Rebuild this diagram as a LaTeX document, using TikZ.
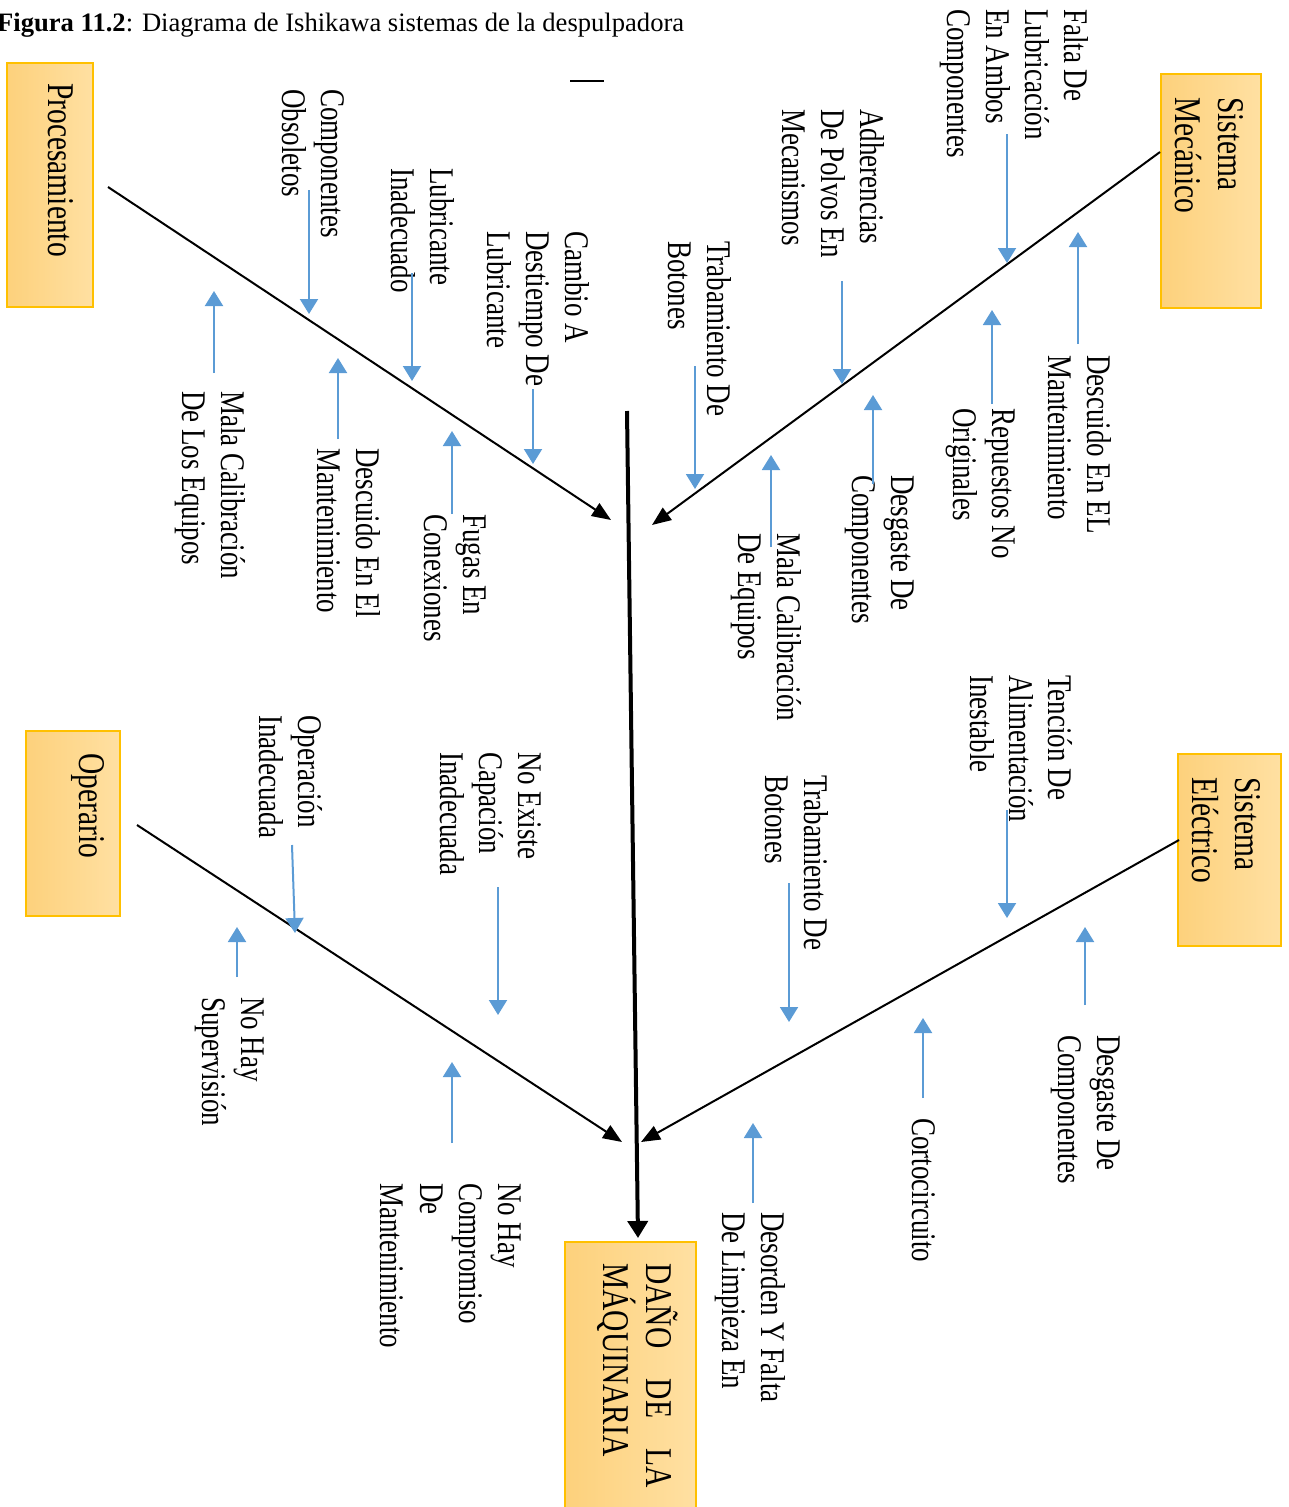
\documentclass[tikz,border=0pt]{standalone}
\usepackage{fontspec}
\setmainfont{Liberation Serif}
\usepackage{xcolor}
\usetikzlibrary{arrows.meta}
\definecolor{boxdark}{RGB}{253,209,124}
\definecolor{boxlight}{RGB}{255,224,162}
\definecolor{boxgold}{RGB}{255,192,0}
\definecolor{causeblue}{RGB}{91,155,213}

\begin{document}
\begin{tikzpicture}[
    x=1pt, y=-1pt,
    catbox/.style={rectangle, draw=boxgold, line width=2pt, left color=boxdark, right color=boxlight},
    cattext/.style={rotate=-90, yscale=1.28, anchor=north west, inner sep=0pt, align=left, font=\fontsize{29.5}{33.6}\selectfont},
    cause/.style={rotate=-90, yscale=1.28, anchor=north west, inner sep=0pt, align=left, font=\fontsize{27}{30.5}\selectfont},
    spine/.style={line width=4pt, -{Triangle[length=17pt,width=20pt]}},
    bone/.style={line width=2pt, -{Triangle[length=19pt,width=15pt]}},
    subarrow/.style={draw=causeblue, line width=2pt, -{Triangle[length=15pt,width=18pt]}},
]
\useasboundingbox (0,0) rectangle (1288,1507);

% Title
\node[anchor=base west, inner sep=0pt, font=\fontsize{26.6}{30}\selectfont] (title) at (-3,31) {\textbf{Figura 11.2}: Diagrama de Ishikawa sistemas de la despulpadora};
\coordinate (dashL) at (570,81);
\coordinate (dashR) at (604,81);
\draw[line width=1.5pt] (dashL) -- (dashR);

% --- CATEGORY BOXES ---
\node[catbox, minimum width=86pt, minimum height=244pt] (procBox) at (50,185) {};
\node[cattext] (procText) at (74,83) {Procesamiento};
\node[catbox, minimum width=100pt, minimum height=234pt] (mecBox) at (1211,191) {};
\node[cattext] (mecText) at (1244,97) {Sistema\\Mecánico};
\node[catbox, minimum width=94pt, minimum height=185pt] (opBox) at (73,823.5) {};
\node[cattext] (opText) at (105,753) {Operario};
\node[catbox, minimum width=103pt, minimum height=192pt] (elecBox) at (1229.5,849.5) {};
\node[cattext] (elecText) at (1261,777) {Sistema\\Eléctrico};

% Effect
\node[catbox, minimum width=131pt, minimum height=286pt] (effBox) at (630.5,1385) {};
\node[cattext] (effText) at (678,1263) {\makebox[225pt][s]{DAÑO DE LA}\\MÁQUINARIA};

% --- SPINE AND BONES ---
\coordinate (spineTop) at (627,411);
\coordinate (spineEnd) at (638,1238);
\draw[spine] (spineTop) -- (spineEnd);

\coordinate (procTail) at (108,187);
\coordinate (procHead) at (611,520);
\draw[bone] (procTail) -- (procHead);
\coordinate (mecTail) at (1160,152);
\coordinate (mecHead) at (652,525);
\draw[bone] (mecTail) -- (mecHead);
\coordinate (opTail) at (137,825);
\coordinate (opHead) at (622,1142);
\draw[bone] (opTail) -- (opHead);
\coordinate (elecTail) at (1179,840);
\coordinate (elecHead) at (641,1142);
\draw[bone] (elecTail) -- (elecHead);

% --- PROCESAMIENTO ---
\node[cause] (procC1) at (345,89) {Componentes\\Obsoletos};
\node[cause] (procC2) at (455,168) {Lubricante\\Inadecuado};
\node[cause] (procC3) at (590,231) {Cambio A\\Destiempo De\\Lubricante};
\node[cause] (procC4) at (486,514) {Fugas En\\Conexiones};
\node[cause] (procC5) at (381,448) {Descuido En El\\Mantenimiento};
\node[cause] (procC6) at (246,391) {Mala Calibración\\De Los Equipos};
\coordinate (p1a) at (309,190); \coordinate (p1b) at (309,314);
\coordinate (p2a) at (412,273); \coordinate (p2b) at (412,381);
\coordinate (p3a) at (533,389); \coordinate (p3b) at (533,464);
\coordinate (p4a) at (452,514); \coordinate (p4b) at (452,431);
\coordinate (p5a) at (338,439); \coordinate (p5b) at (338,358);
\coordinate (p6a) at (214,373); \coordinate (p6b) at (214,291);
\draw[subarrow] (p1a) -- (p1b);
\draw[subarrow] (p2a) -- (p2b);
\draw[subarrow] (p3a) -- (p3b);
\draw[subarrow] (p4a) -- (p4b);
\draw[subarrow] (p5a) -- (p5b);
\draw[subarrow] (p6a) -- (p6b);

% --- SISTEMA MECANICO ---
\node[cause] (mecC1) at (1089,9) {Falta De\\Lubricación\\En Ambos\\Componentes};
\node[cause] (mecC2) at (885,109) {Adherencias\\De Polvos En\\Mecanismos};
\node[cause] (mecC3) at (732,241) {Trabamiento De\\Botones};
\node[cause] (mecC4) at (1112,355) {Descuido En EL\\Mantenimiento};
\node[cause] (mecC5) at (1015,408) {Repuestos No\\Originales};
\node[cause] (mecC6) at (914,475) {Desgaste De\\Componentes};
\node[cause] (mecC7) at (802,533) {Mala Calibración\\De Equipos};
\coordinate (m1a) at (1007,134); \coordinate (m1b) at (1007,263);
\coordinate (m2a) at (842,281); \coordinate (m2b) at (842,384);
\coordinate (m3a) at (695,366); \coordinate (m3b) at (695,489);
\coordinate (m4a) at (1078,344); \coordinate (m4b) at (1078,232);
\coordinate (m5a) at (992,404); \coordinate (m5b) at (992,310);
\coordinate (m6a) at (873,484); \coordinate (m6b) at (873,395);
\coordinate (m7a) at (771,547); \coordinate (m7b) at (771,455);
\draw[subarrow] (m1a) -- (m1b);
\draw[subarrow] (m2a) -- (m2b);
\draw[subarrow] (m3a) -- (m3b);
\draw[subarrow] (m4a) -- (m4b);
\draw[subarrow] (m5a) -- (m5b);
\draw[subarrow] (m6a) -- (m6b);
\draw[subarrow] (m7a) -- (m7b);

% --- OPERARIO ---
\node[cause] (opC1) at (323,715) {Operación\\Inadecuada};
\node[cause] (opC2) at (542,752) {No Existe\\Capación\\Inadecuada};
\node[cause] (opC3) at (264,997) {No Hay\\Supervisión};
\node[cause] (opC4) at (521,1183) {No Hay\\Compromiso\\De\\Mantenimiento};
\coordinate (o1a) at (292,845); \coordinate (o1b) at (295,933);
\coordinate (o2a) at (498,887); \coordinate (o2b) at (498,1015);
\coordinate (o3a) at (237,977); \coordinate (o3b) at (237,927);
\coordinate (o4a) at (452,1143); \coordinate (o4b) at (452,1062);
\draw[subarrow] (o1a) -- (o1b);
\draw[subarrow] (o2a) -- (o2b);
\draw[subarrow] (o3a) -- (o3b);
\draw[subarrow] (o4a) -- (o4b);

% --- SISTEMA ELECTRICO ---
\node[cause] (elecC1) at (1073,675) {Tención De\\Alimentación\\Inestable};
\node[cause] (elecC2) at (829,775) {Trabamiento De\\Botones};
\node[cause] (elecC3) at (1120,1035) {Desgaste De\\Componentes};
\node[cause] (elecC4) at (936,1118) {Cortocircuito};
\node[cause] (elecC5) at (786,1212) {Desorden Y Falta\\De Limpieza En};
\coordinate (e1a) at (1007,810); \coordinate (e1b) at (1007,918);
\coordinate (e2a) at (789,883); \coordinate (e2b) at (789,1022);
\coordinate (e3a) at (1085,1005); \coordinate (e3b) at (1085,927);
\coordinate (e4a) at (923,1098); \coordinate (e4b) at (923,1018);
\coordinate (e5a) at (753,1203); \coordinate (e5b) at (753,1123);
\draw[subarrow] (e1a) -- (e1b);
\draw[subarrow] (e2a) -- (e2b);
\draw[subarrow] (e3a) -- (e3b);
\draw[subarrow] (e4a) -- (e4b);
\draw[subarrow] (e5a) -- (e5b);

\end{tikzpicture}
\end{document}
